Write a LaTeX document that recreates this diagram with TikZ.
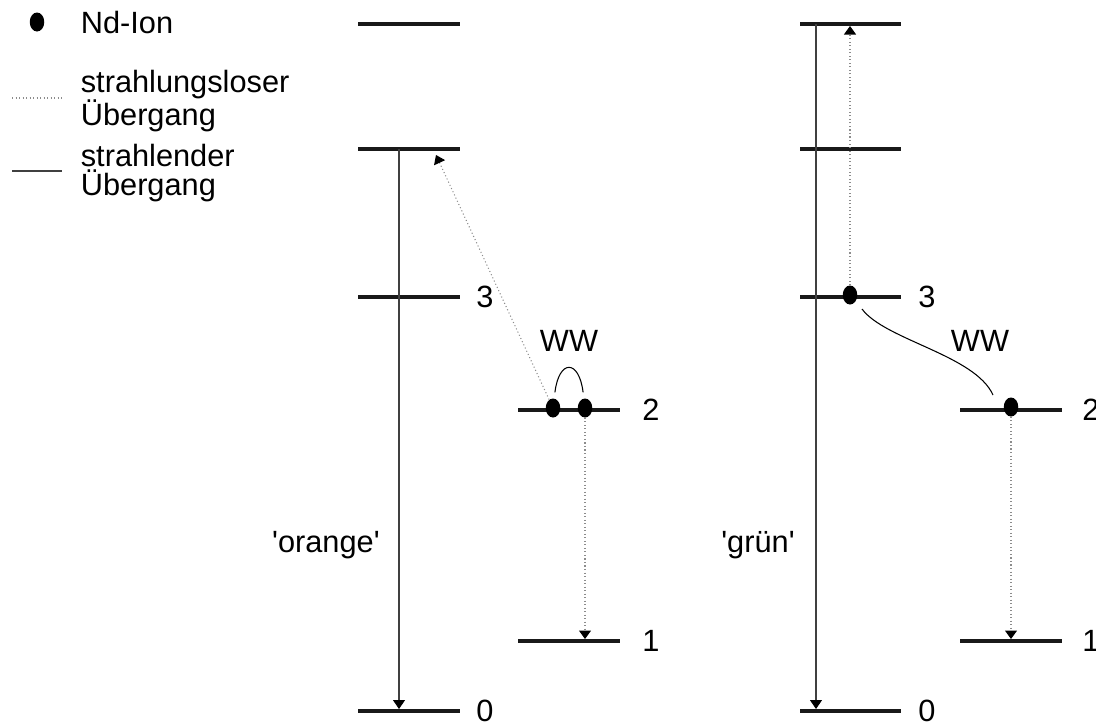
\documentclass[tikz,border=0pt]{standalone}
\usepackage{fontspec}
\setmainfont{Liberation Sans}[Ligatures=TeXOff]
\usetikzlibrary{arrows.meta,shapes.geometric}

\begin{document}
\begin{tikzpicture}[font=\fontsize{17.5}{17}\selectfont,
  level/.style={line width=2.3pt, black!90},
  lvlabel/.style={inner sep=0pt},
  ion/.style={ellipse, fill=black, minimum width=0.29cm, minimum height=0.38cm, inner sep=0pt},
  radiative/.style={line width=0.6pt, black!75, -{Triangle[length=0.18cm, width=0.24cm, color=black]}},
  nonradiative/.style={line width=0.6pt, black!45, dash pattern=on 0.6pt off 1.4pt, -{Triangle[length=0.17cm, width=0.24cm, color=black]}},
  ww/.style={line width=0.6pt, black}]
\useasboundingbox (0,0) rectangle (21.92,-14.48);
\node[ion] (legIon) at (0.74,-0.44) {};
\node[anchor=west, inner sep=0pt] (legIonText) at (1.61,-0.46) {Nd-Ion};
\draw[line width=0.6pt, black!45, dash pattern=on 0.6pt off 1.4pt] (0.24,-1.96) -- (1.24,-1.96);
\node[anchor=west, align=left, inner sep=0pt] (legNonrad) at (1.61,-2.02) {strahlungsloser\\Übergang};
\draw[line width=0.6pt, black!75] (0.24,-3.42) -- (1.24,-3.42);
\node[anchor=west, align=left, inner sep=0pt] (legRad) at (1.61,-3.46) {strahlender\\Übergang};
\draw[level] (7.16,-0.48) -- (9.20,-0.48);
\draw[level] (7.16,-2.98) -- (9.20,-2.98);
\draw[level] (7.16,-5.94) -- (9.20,-5.94);
\draw[level] (7.16,-14.22) -- (9.20,-14.22);
\draw[level] (10.36,-8.20) -- (12.40,-8.20);
\draw[level] (10.36,-12.82) -- (12.40,-12.82);
\draw[level] (16.00,-0.48) -- (18.02,-0.48);
\draw[level] (16.00,-2.98) -- (18.02,-2.98);
\draw[level] (16.00,-5.94) -- (18.02,-5.94);
\draw[level] (16.00,-14.22) -- (18.02,-14.22);
\draw[level] (19.20,-8.20) -- (21.24,-8.20);
\draw[level] (19.20,-12.82) -- (21.24,-12.82);
\node[lvlabel] (lbO3) at (9.70,-5.94) {3};
\node[lvlabel] (lbO0) at (9.70,-14.22) {0};
\node[lvlabel] (lbO2) at (13.02,-8.20) {2};
\node[lvlabel] (lbO1) at (13.02,-12.82) {1};
\node[lvlabel] (lbG3) at (18.54,-5.94) {3};
\node[lvlabel] (lbG0) at (18.54,-14.22) {0};
\node[lvlabel] (lbG2) at (21.82,-8.20) {2};
\node[lvlabel] (lbG1) at (21.82,-12.82) {1};
\node[ion] (ionA) at (11.06,-8.16) {};
\node[ion] (ionB) at (11.70,-8.16) {};
\node[ion] (ionC) at (17.00,-5.90) {};
\node[ion] (ionD) at (20.22,-8.14) {};
\coordinate (topO) at (7.98,-2.98);
\coordinate (botO) at (7.98,-14.18);
\coordinate (tipA) at (8.72,-3.10);
\coordinate (tipB) at (11.70,-12.78);
\coordinate (topG) at (16.32,-0.48);
\coordinate (botG) at (16.32,-14.18);
\coordinate (tipC) at (17.00,-0.52);
\coordinate (tipD) at (20.22,-12.78);
\draw[radiative] (topO) -- (botO);
\draw[radiative] (topG) -- (botG);
\draw[nonradiative] (ionA) -- (tipA);
\draw[nonradiative] (ionB) -- (tipB);
\draw[nonradiative] (ionC) -- (tipC);
\draw[nonradiative] (ionD) -- (tipD);
\draw[ww, shorten <=0.12cm, shorten >=0.12cm] (ionA) .. controls (11.18,-7.18) and (11.58,-7.18) .. (ionB);
\node (wwO) at (11.38,-6.82) {WW};
\coordinate (wwC) at (17.24,-6.18);
\coordinate (wwD) at (19.86,-7.90);
\draw[ww] (wwC) .. controls (17.70,-6.80) and (19.50,-7.10) .. (wwD);
\node (wwG) at (19.60,-6.82) {WW};
\node[anchor=base east, inner sep=0pt] (orange) at (7.60,-11.04) {'orange'};
\node[anchor=base east, inner sep=0pt] (gruen) at (15.90,-11.04) {'grün'};
\end{tikzpicture}
\end{document}
